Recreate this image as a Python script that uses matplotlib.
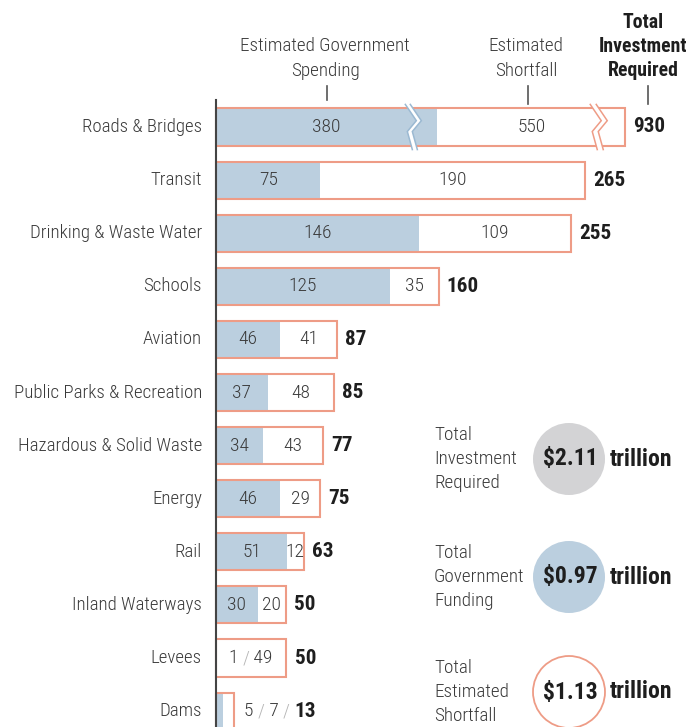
import matplotlib
matplotlib.use('Agg')
import matplotlib.pyplot as plt
from matplotlib import font_manager
from matplotlib.patches import Circle, Rectangle, Polygon

# ---------------- data ----------------
categories = ["Roads & Bridges", "Transit", "Drinking & Waste Water", "Schools",
              "Aviation", "Public Parks & Recreation", "Hazardous & Solid Waste",
              "Energy", "Rail", "Inland Waterways", "Levees", "Dams"]
gov = [380, 75, 146, 125, 46, 37, 34, 46, 51, 30, 1, 5]
shortfall = [550, 190, 109, 35, 41, 48, 43, 29, 12, 20, 49, 7]
total = [930, 265, 255, 160, 87, 85, 77, 75, 63, 50, 50, 13]

summary_labels = [["Total", "Investment", "Required"],
                  ["Total", "Government", "Funding"],
                  ["Total", "Estimated", "Shortfall"]]
summary_values = ["$2.11", "$0.97", "$1.13"]
summary_unit = "trillion"

# ---------------- style ----------------
names = {f.name for f in font_manager.fontManager.ttflist}
FONT = 'DejaVu Sans'
for cand in ['Roboto Condensed', 'Liberation Sans Narrow', 'Open Sans Condensed', 'Roboto']:
    if cand in names:
        FONT = cand
        break
plt.rcParams['font.family'] = [FONT, 'DejaVu Sans']

BLUE = '#bbcfdf'
ORANGE = '#ee9c86'
GRAY = '#d3d3d5'
SLASH = '#b5b5b5'
TXT = '#3a3a3a'
DARK = '#1e1e1e'
LW = 'light'

FS_CAT = 13.6
FS_NUM = 14.0
FS_TOT = 15.2
FS_HEAD = 13.8
FS_HEAD_B = 14.2
FS_SUM = 13.8
FS_BIG = 17.0

W, H = 693, 727
PX = 1.392          # pixels per unit
X0 = 216            # pixel x of zero
ROW0, PITCH = 127, 53.1
BAR_H = 0.70
BREAK_AT = 300      # values above are drawn with a break
BREAK_GOV_SHOWN = 159
BREAK_TOTAL_SHOWN = 294

fig = plt.figure(figsize=(W / 100, H / 100), dpi=100)
ax = fig.add_axes([0, 0, 1, 1])
ax.set_xlim(-X0 / PX, (W - X0) / PX)
ax.set_ylim((H - ROW0) / PITCH, -ROW0 / PITCH)
ax.axis('off')

ov = fig.add_axes([0, 0, 1, 1], facecolor='none')
ov.set_xlim(0, W)
ov.set_ylim(H, 0)
ov.axis('off')

upx = 1 / PX          # one pixel in x data units
upy = 1 / PITCH       # one pixel in y data units
renderer = fig.canvas.get_renderer()


def text_width(s, **kw):
    t = ax.text(0, 0, s, **kw)
    w = t.get_window_extent(renderer=renderer).width
    t.remove()
    return w * upx


def pieces(x, y, parts, center=False):
    widths = [text_width(s, fontsize=fs, fontweight=fw) for s, c, fs, fw in parts]
    if center:
        x = x - sum(widths) / 2
    for (s, c, fs, fw), w in zip(parts, widths):
        ax.text(x, y, s, ha='left', va='center', color=c, fontsize=fs,
                fontweight=fw, zorder=7)
        x += w


def zigzag(x, y, color, gap, lw=1.1, ext=4):
    top = y - BAR_H / 2 - ext * upy
    bot = y + BAR_H / 2 + ext * upy
    hh = bot - top
    xs = [0, 11, 2, 7]
    ys = [0, 0.36, 0.60, 1.0]
    left = [(x + dx * upx, top + fy * hh) for dx, fy in zip(xs, ys)]
    right = [(x + (dx + gap) * upx, top + fy * hh) for dx, fy in zip(xs, ys)]
    ax.add_patch(Polygon(left + right[::-1], closed=True, facecolor='white',
                         edgecolor='none', zorder=5))
    for line in (left, right):
        ax.plot([p[0] for p in line], [p[1] for p in line], color=color, lw=lw,
                zorder=6, solid_joinstyle='miter')


for i, (cat, g, s, t) in enumerate(zip(categories, gov, shortfall, total)):
    broken = t > BREAK_AT
    gd = BREAK_GOV_SHOWN if broken else g
    td = BREAK_TOTAL_SHOWN if broken else t
    ax.barh(i, gd, height=BAR_H, color=BLUE, edgecolor='none', zorder=2)
    ax.barh(i, td, height=BAR_H, color='none', edgecolor=ORANGE, lw=1.5, zorder=3)
    ax.text(-14 * upx, i, cat, ha='right', va='center', fontsize=FS_CAT,
            color=TXT, fontweight=LW)
    if broken:
        zigzag(gd - 32 * upx, i, '#9bb9d2', 5)
        zigzag(td - 35 * upx, i, ORANGE, 6)
    if cat == "Levees":
        pieces(td / 2, i, [(f"{g} ", TXT, FS_NUM, LW), ("/", SLASH, FS_NUM, LW),
                           (f" {s}", TXT, FS_NUM, LW)], center=True)
        ax.text(td + 9 * upx, i, str(t), ha='left', va='center', fontsize=FS_TOT,
                fontweight='bold', color=DARK)
    elif cat == "Dams":
        pieces(td + 10 * upx, i, [(f"{g} ", TXT, FS_NUM, LW), ("/", SLASH, FS_NUM, LW),
                                  (f" {s} ", TXT, FS_NUM, LW), ("/", SLASH, FS_NUM, LW),
                                  (" ", TXT, FS_NUM, LW), (str(t), DARK, FS_TOT, 'bold')])
    else:
        ax.text(gd / 2, i, str(g), ha='center', va='center', fontsize=FS_NUM,
                color=TXT, zorder=7, fontweight=LW)
        ax.text((gd + td) / 2, i, str(s), ha='center', va='center', fontsize=FS_NUM,
                color=TXT, zorder=7, fontweight=LW)
        ax.text(td + 8 * upx, i, str(t), ha='left', va='center', fontsize=FS_TOT,
                fontweight='bold', color=DARK)

# vertical axis line
ax.axvline(0, ymin=0, ymax=(H - 100) / H, color='#444444', lw=1.5, zorder=8)

# headers
for txt, yy in [("Estimated Government", 46), ("Spending", 71)]:
    ov.text(325, yy, txt, ha='center', va='center', fontsize=FS_HEAD, color=TXT,
            fontweight=LW)
for txt, yy in [("Estimated", 46), ("Shortfall", 71)]:
    ov.text(526, yy, txt, ha='center', va='center', fontsize=FS_HEAD, color=TXT,
            fontweight=LW)
for txt, yy in [("Total", 22), ("Investment", 46), ("Required", 70)]:
    ov.text(643, yy, txt, ha='center', va='center', fontsize=FS_HEAD_B,
            fontweight='bold', color=DARK)
for xx, y1, y2 in [(327, 86, 100), (528, 86, 104), (648, 86, 104)]:
    ov.plot([xx, xx], [y1, y2], color='#555555', lw=1.2)

# summary circles
circ_y = [459, 577, 692]
styles = [dict(facecolor=GRAY, edgecolor='none'),
          dict(facecolor=BLUE, edgecolor='none'),
          dict(facecolor='white', edgecolor=ORANGE, lw=1.3)]
for lines, val, cy, st in zip(summary_labels, summary_values, circ_y, styles):
    ov.add_patch(Circle((569, cy), 36, **st))
    for k, ln in enumerate(lines):
        ov.text(434, cy - 24 + 24 * k, ln, ha='left', va='center', fontsize=FS_SUM,
                color=TXT, fontweight=LW)
    ov.text(570, cy, val, ha='center', va='center', fontsize=FS_BIG,
            fontweight='bold', color=DARK)
    ov.text(610, cy, summary_unit, ha='left', va='center', fontsize=FS_BIG,
            fontweight='bold', color=DARK)

fig.savefig('out.png', dpi=100, facecolor='white')
